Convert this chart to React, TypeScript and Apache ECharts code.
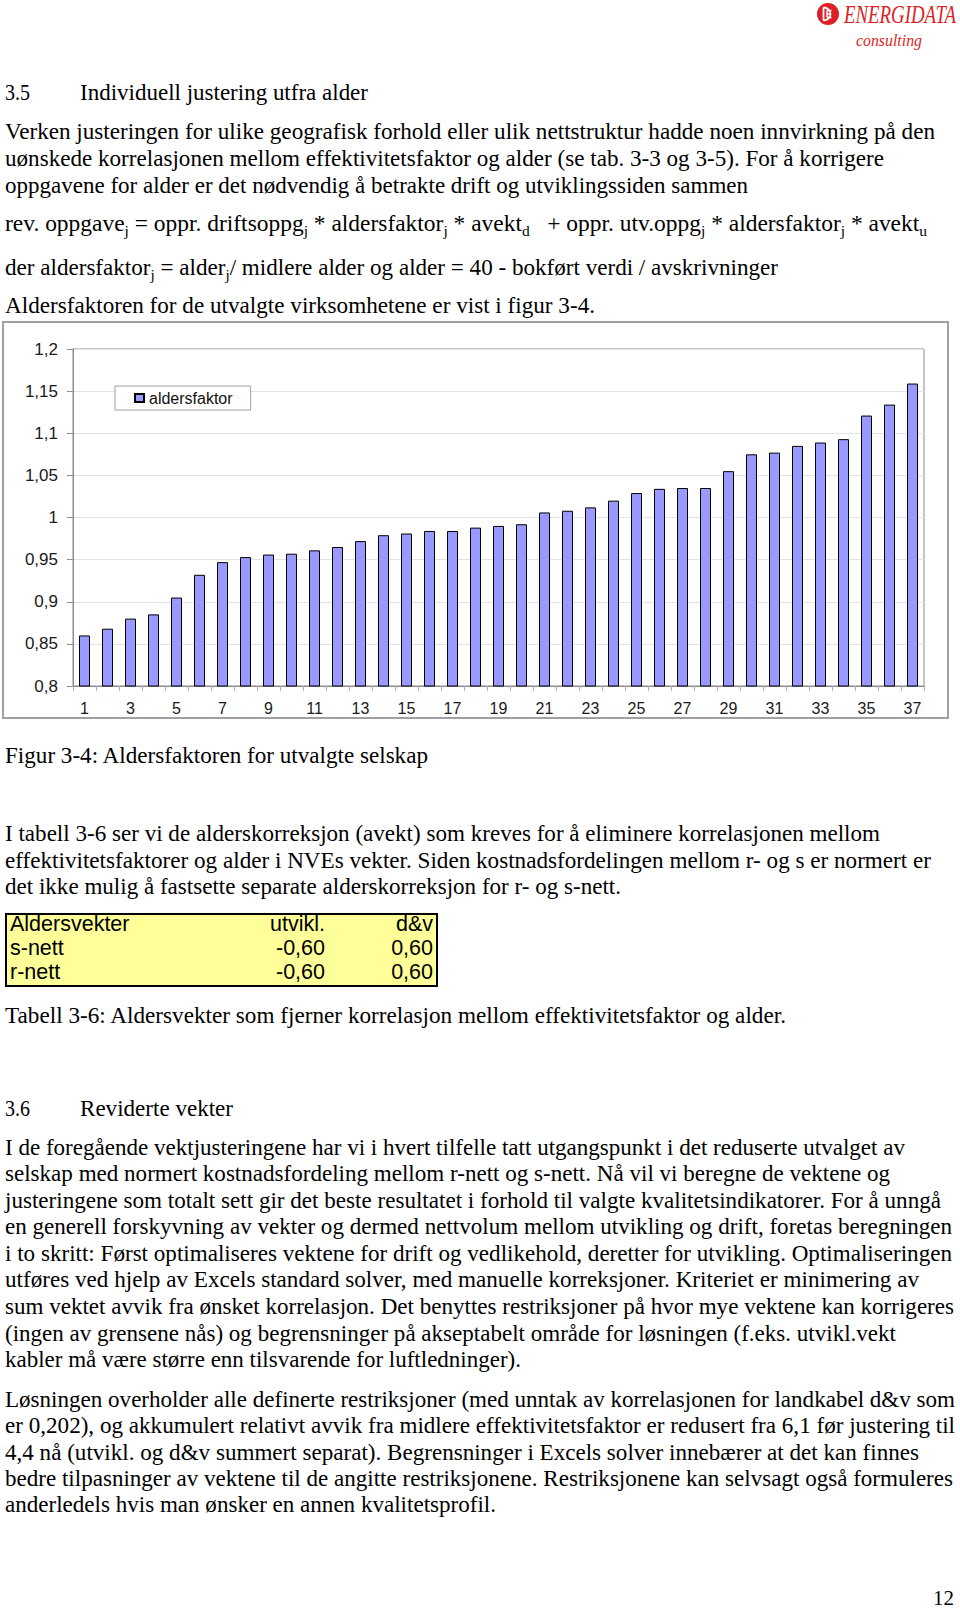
import React, { useEffect, useLayoutEffect, useRef } from "react";
import * as echarts from "echarts";

// ---------- chart data ----------
const categories = [
  "1", "2", "3", "4", "5", "6", "7", "8", "9", "10", "11", "12", "13", "14", "15", "16", "17", "18", "19",
  "20", "21", "22", "23", "24", "25", "26", "27", "28", "29", "30", "31", "32", "33", "34", "35", "36", "37",
];
const aldersfaktor = [
  0.86, 0.868, 0.88, 0.885, 0.905, 0.932, 0.947, 0.953, 0.956, 0.957, 0.961, 0.965, 0.972, 0.979, 0.981,
  0.984, 0.984, 0.988, 0.99, 0.992, 1.006, 1.008, 1.012, 1.02, 1.029, 1.034, 1.035, 1.035, 1.055, 1.075,
  1.077, 1.085, 1.089, 1.093, 1.121, 1.134, 1.159,
];
const seriesName = "aldersfaktor";
const yMin = 0.8;
const yMax = 1.2;
const yStep = 0.05;

// ---------- table data ----------
const tableHeader = ["Aldersvekter", "utvikl.", "d&v"];
const tableRows = [
  ["s-nett", "-0,60", "0,60"],
  ["r-nett", "-0,60", "0,60"],
];

const SERIF = '"Liberation Serif", "Times New Roman", serif';
const SANS = '"Liberation Sans", Arial, sans-serif';

function FitLine(props: {
  cy: number;
  left?: number;
  right: number;
  size?: number;
  family?: string;
  italic?: boolean;
  color?: string;
  children: React.ReactNode;
}) {
  const { cy, left = 5, right, size = 23, family = SERIF, italic, color = "#000", children } = props;
  const ref = useRef<HTMLSpanElement>(null);
  useLayoutEffect(() => {
    const el = ref.current;
    if (!el) return;
    el.style.transform = "none";
    const w = el.getBoundingClientRect().width;
    if (w > 0) el.style.transform = `scaleX(${(right - left) / w})`;
  }, [right, left]);
  const lh = Math.round(size * 1.15);
  return (
    <div
      style={{
        position: "absolute",
        left,
        top: cy - lh / 2 + 1,
        height: lh,
        lineHeight: `${lh}px`,
        fontSize: size,
        fontFamily: family,
        fontStyle: italic ? "italic" : "normal",
        color,
        whiteSpace: "pre",
      }}
    >
      <span ref={ref} style={{ display: "inline-block", transformOrigin: "0 0", whiteSpace: "pre" }}>
        {children}
      </span>
    </div>
  );
}

const Sub = ({ c }: { c: string }) => (
  <span style={{ fontSize: "0.66em", position: "relative", top: "0.3em" }}>{c}</span>
);

function Chart() {
  const ref = useRef<HTMLDivElement>(null);
  useEffect(() => {
    if (!ref.current) return;
    const chart = echarts.init(ref.current, undefined, { renderer: "svg" });
    const fmt = (v: number) => String(Number(v.toFixed(2))).replace(".", ",");
    chart.setOption({
      animation: false,
      backgroundColor: "#fff",
      graphic: [
        {
          type: "rect",
          silent: true,
          z: -10,
          shape: { x: 3, y: 4, width: 945, height: 396 },
          style: { fill: "none", stroke: "#a0a0a0", lineWidth: 2 },
        },
      ],
      grid: {
        left: 73,
        right: 36,
        top: 31,
        bottom: 38,
        show: true,
        borderColor: "#8c8c8c",
        borderWidth: 1,
        backgroundColor: "#fff",
      },
      legend: {
        left: 115,
        top: 68,
        orient: "horizontal",
        padding: [4, 18, 4, 19],
        itemWidth: 9,
        itemHeight: 8,
        borderColor: "#a0a0a0",
        borderWidth: 1,
        borderRadius: 0,
        backgroundColor: "#fff",
        textStyle: { fontFamily: SANS, fontSize: 16, color: "#111" },
        data: [{ name: seriesName, icon: "rect" }],
      },
      xAxis: {
        type: "category",
        data: categories,
        boundaryGap: true,
        axisLine: { lineStyle: { color: "#8c8c8c", width: 1 } },
        axisTick: { show: true, length: 5, interval: 0, lineStyle: { color: "#b0b0b0" } },
        axisLabel: { interval: 1, margin: 14, color: "#1a1a1a", fontFamily: SANS, fontSize: 16 },
        splitLine: { show: false },
      },
      yAxis: {
        type: "value",
        min: yMin,
        max: yMax,
        interval: yStep,
        axisLine: { show: true, lineStyle: { color: "#8c8c8c", width: 1 } },
        axisTick: { show: true, length: 6, lineStyle: { color: "#8c8c8c" } },
        splitLine: { show: true, lineStyle: { color: "#e3e3e3", width: 1 } },
        axisLabel: { formatter: fmt, margin: 15, color: "#1a1a1a", fontFamily: SANS, fontSize: 17 },
      },
      series: [
        {
          type: "bar",
          name: seriesName,
          data: aldersfaktor,
          barWidth: 11,
          itemStyle: { color: "#9999ff", borderColor: "#000", borderWidth: 1 },
        },
      ],
    });
    return () => chart.dispose();
  }, []);
  return <div ref={ref} style={{ position: "absolute", left: 0, top: 318, width: 960, height: 406 }} />;
}

function Logo() {
  return (
    <svg style={{ position: "absolute", left: 816, top: 2 }} width={24} height={24} viewBox="0 0 24 24">
      <circle cx={12} cy={12} r={11} fill="#dd1f26" />
      <path d="M7.5 5.5 L7.5 18.5" stroke="#fff" strokeWidth={1.8} fill="none" />
      <path d="M7.5 5.5 A7 6.5 0 0 1 7.5 18.5" stroke="#fff" strokeWidth={1.8} fill="none" />
      <path d="M11 8.5 L11 15.5 M11 8.5 L15.5 8.5 M11 12 L14.5 12 M11 15.5 L15.5 15.5" stroke="#fff" strokeWidth={1.5} fill="none" />
    </svg>
  );
}

function Table() {
  const rowH = 24;
  const all = [tableHeader, ...tableRows];
  return (
    <div
      style={{
        position: "absolute",
        left: 5,
        top: 913,
        width: 433,
        height: 74,
        boxSizing: "border-box",
        border: "2px solid #000",
        background: "#ffff99",
        fontFamily: SANS,
        fontSize: 21.5,
        color: "#000",
      }}
    >
      {all.map((r, i) => (
        <div key={i} style={{ position: "absolute", left: 0, top: -3 + i * rowH, width: 429, height: rowH, lineHeight: `${rowH}px` }}>
          <span style={{ position: "absolute", left: 3 }}>{r[0]}</span>
          <span style={{ position: "absolute", right: 429 - 318 }}>{r[1]}</span>
          <span style={{ position: "absolute", right: 3 }}>{r[2]}</span>
        </div>
      ))}
    </div>
  );
}

export default function App() {
  return (
    <div
      style={{
        position: "absolute",
        left: 0,
        top: 0,
        width: 960,
        height: 1612,
        background: "#fff",
        overflow: "hidden",
      }}
    >
      <Logo />
      <FitLine cy={13} left={844} right={956} size={25} italic color="#dd1f26">ENERGIDATA</FitLine>
      <FitLine cy={40} left={856} right={922} size={17} italic color="#dd1f26">consulting</FitLine>

      <FitLine cy={92} left={5} right={30}>3.5</FitLine>
      <FitLine cy={92} left={80} right={368}>Individuell justering utfra alder</FitLine>

      <FitLine cy={131} right={935}>Verken justeringen for ulike geografisk forhold eller ulik nettstruktur hadde noen innvirkning på den</FitLine>
      <FitLine cy={158} right={884}>uønskede korrelasjonen mellom effektivitetsfaktor og alder (se tab. 3-3 og 3-5). For å korrigere</FitLine>
      <FitLine cy={185} right={748}>oppgavene for alder er det nødvendig å betrakte drift og utviklingssiden sammen</FitLine>

      <FitLine cy={223} right={927}>
        rev. oppgave<Sub c="j" /> = oppr. driftsoppg<Sub c="j" /> * aldersfaktor<Sub c="j" /> * avekt<Sub c="d" />
        {"   + oppr. utv.oppg"}
        <Sub c="j" /> * aldersfaktor<Sub c="j" /> * avekt<Sub c="u" />
      </FitLine>
      <FitLine cy={267} right={778}>
        der aldersfaktor<Sub c="j" /> = alder<Sub c="j" />/ midlere alder og alder = 40 - bokført verdi / avskrivninger
      </FitLine>
      <FitLine cy={305} right={595}>Aldersfaktoren for de utvalgte virksomhetene er vist i figur 3-4.</FitLine>

      <Chart />

      <FitLine cy={755} right={428}>Figur 3-4: Aldersfaktoren for utvalgte selskap</FitLine>

      <FitLine cy={833} right={880}>I tabell 3-6 ser vi de alderskorreksjon (avekt) som kreves for å eliminere korrelasjonen mellom</FitLine>
      <FitLine cy={860} right={931}>effektivitetsfaktorer og alder i NVEs vekter. Siden kostnadsfordelingen mellom r- og s er normert er</FitLine>
      <FitLine cy={886} right={621}>det ikke mulig å fastsette separate alderskorreksjon for r- og s-nett.</FitLine>

      <Table />

      <FitLine cy={1015} right={786}>Tabell 3-6: Aldersvekter som fjerner korrelasjon mellom effektivitetsfaktor og alder.</FitLine>

      <FitLine cy={1108} left={5} right={30}>3.6</FitLine>
      <FitLine cy={1108} left={80} right={233}>Reviderte vekter</FitLine>

      <FitLine cy={1147} right={905}>I de foregående vektjusteringene har vi i hvert tilfelle tatt utgangspunkt i det reduserte utvalget av</FitLine>
      <FitLine cy={1173} right={890}>selskap med normert kostnadsfordeling mellom r-nett og s-nett. Nå vil vi beregne de vektene og</FitLine>
      <FitLine cy={1200} right={941}>justeringene som totalt sett gir det beste resultatet i forhold til valgte kvalitetsindikatorer. For å unngå</FitLine>
      <FitLine cy={1226} right={952}>en generell forskyvning av vekter og dermed nettvolum mellom utvikling og drift, foretas beregningen</FitLine>
      <FitLine cy={1253} right={952}>i to skritt: Først optimaliseres vektene for drift og vedlikehold, deretter for utvikling. Optimaliseringen</FitLine>
      <FitLine cy={1279} right={919}>utføres ved hjelp av Excels standard solver, med manuelle korreksjoner. Kriteriet er minimering av</FitLine>
      <FitLine cy={1306} right={954}>sum vektet avvik fra ønsket korrelasjon. Det benyttes restriksjoner på hvor mye vektene kan korrigeres</FitLine>
      <FitLine cy={1333} right={896}>(ingen av grensene nås) og begrensninger på akseptabelt område for løsningen (f.eks. utvikl.vekt</FitLine>
      <FitLine cy={1359} right={521}>kabler må være større enn tilsvarende for luftledninger).</FitLine>

      <FitLine cy={1399} right={955}>Løsningen overholder alle definerte restriksjoner (med unntak av korrelasjonen for landkabel d&amp;v som</FitLine>
      <FitLine cy={1425} right={955}>er 0,202), og akkumulert relativt avvik fra midlere effektivitetsfaktor er redusert fra 6,1 før justering til</FitLine>
      <FitLine cy={1452} right={919}>4,4 nå (utvikl. og d&amp;v summert separat). Begrensninger i Excels solver innebærer at det kan finnes</FitLine>
      <FitLine cy={1478} right={953}>bedre tilpasninger av vektene til de angitte restriksjonene. Restriksjonene kan selvsagt også formuleres</FitLine>
      <FitLine cy={1504} right={496}>anderledels hvis man ønsker en annen kvalitetsprofil.</FitLine>

      <FitLine cy={1596} left={933} right={954} size={22}>12</FitLine>
    </div>
  );
}
